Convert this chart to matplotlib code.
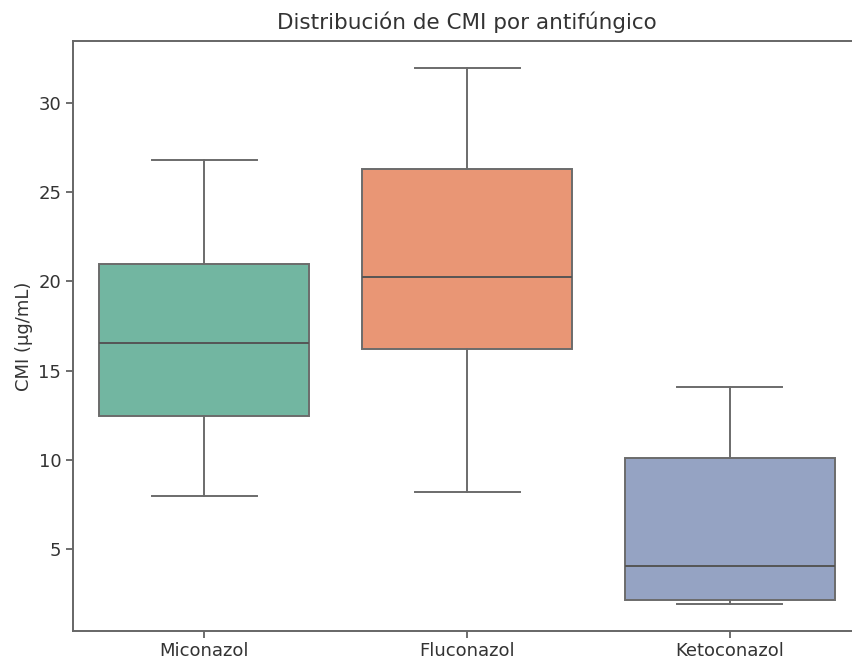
import matplotlib
matplotlib.use("Agg")
import matplotlib.pyplot as plt
import seaborn as sns

# Box statistics (µg/mL)
farmacos = ["Miconazol", "Fluconazol", "Ketoconazol"]
bigote_inf = [7.97, 8.2, 1.95]
q1 = [12.47, 16.21, 2.14]
mediana = [16.53, 20.25, 4.05]
q3 = [20.96, 26.28, 10.14]
bigote_sup = [26.8, 31.95, 14.06]

pal = [sns.desaturate(c, 0.75) for c in sns.color_palette("Set2", 3)]

stats = []
for i, nombre in enumerate(farmacos):
    stats.append({
        "label": nombre,
        "whislo": bigote_inf[i], "q1": q1[i], "med": mediana[i],
        "q3": q3[i], "whishi": bigote_sup[i], "fliers": [],
    })

fig = plt.figure(figsize=(8.53, 6.61), dpi=100)
ax = fig.add_axes([0.0856, 0.0459, 0.924, 0.892])

linea = "#6b6b6b"
bp = ax.bxp(stats, positions=range(len(farmacos)), widths=0.8, patch_artist=True,
            showfliers=False, capwidths=0.4,
            boxprops=dict(edgecolor=linea, linewidth=1.4),
            whiskerprops=dict(color=linea, linewidth=1.4),
            capprops=dict(color=linea, linewidth=1.4),
            medianprops=dict(color="#555555", linewidth=1.4))
for caja, col in zip(bp["boxes"], pal):
    caja.set_facecolor(col)

ax.set_xlim(-0.5, 2.5)
lo = min(bigote_inf)
hi = max(bigote_sup)
m = (hi - lo) * 0.05
ax.set_ylim(lo - m, hi + m)
ax.set_xticks(range(len(farmacos)))
ax.set_xticklabels(farmacos, fontsize=13, color="#333333")
ax.tick_params(axis="y", labelsize=13, labelcolor="#333333")
ax.tick_params(length=5, width=1.2, color="#555555")
for s in ax.spines.values():
    s.set_linewidth(1.4)
    s.set_color("#666666")
ax.set_ylabel("CMI (µg/mL)", fontsize=13, color="#333333")
ax.set_title("Distribución de CMI por antifúngico", fontsize=15.5, pad=9, color="#333333")

fig.savefig("out.png", dpi=100)
